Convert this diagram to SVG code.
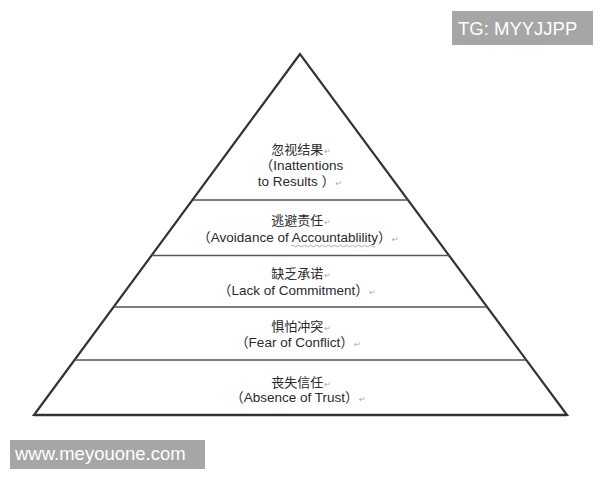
<svg xmlns="http://www.w3.org/2000/svg" width="600" height="480" viewBox="0 0 600 480">
<style>
.zh{font-family:"Noto Sans CJK SC","Liberation Sans",sans-serif;font-size:13px;fill:#2a2a2a;text-anchor:middle}
.en{font-family:"Liberation Sans","Noto Sans CJK SC",sans-serif;font-size:13.5px;fill:#2a2a2a;text-anchor:middle}
.ret{font-family:"DejaVu Sans",sans-serif;font-size:8px;fill:#aaa}
.sep{stroke:#555;stroke-width:1.6;fill:none}
.wm{fill:#a6a6a6}
.wmt{font-family:"Liberation Sans",sans-serif;font-size:18.5px;fill:#fff}
</style>
<rect width="600" height="480" fill="#fff"/>
<g id="connectors">
<polygon points="300,54 34,415 567,415" fill="none" stroke="#333" stroke-width="2.2" stroke-linejoin="miter"/>
<line class="sep" x1="193" y1="200" x2="408" y2="200"/>
<line class="sep" x1="152" y1="255.5" x2="449" y2="255.5"/>
<line class="sep" x1="114" y1="307" x2="487" y2="307"/>
<line class="sep" x1="75" y1="360" x2="526" y2="360"/>
<line x1="34" y1="415" x2="567" y2="415" stroke="#333" stroke-width="2.6"/>
</g>
<g id="node-results">
<text class="zh" x="301" y="154">忽视结果<tspan class="ret" dx="1">↵</tspan></text>
<text class="en" x="301.5" y="170">（Inattentions</text>
<text class="en" x="300" y="186">to Results ）<tspan class="ret" dx="0.5">↵</tspan></text>
</g>
<g id="node-accountability">
<text class="zh" x="301" y="225">逃避责任<tspan class="ret" dx="1">↵</tspan></text>
<text class="en" x="298" y="242">（Avoidance of Accountablility）<tspan class="ret" dx="0.5">↵</tspan></text>
<path d="M291 246 q1.5 -1.5 3 0 t3 0 t3 0 t3 0 t3 0 t3 0 t3 0 t3 0 t3 0 t3 0 t3 0 t3 0 t3 0 t3 0 t3 0 t3 0 t3 0 t3 0 t3 0 t3 0 t3 0 t3 0 t3 0 t3 0 t3 0 t3 0 t3 0 t3 0" fill="none" stroke="#999" stroke-width="0.8"/>
</g>
<g id="node-commitment">
<text class="zh" x="301" y="278">缺乏承诺<tspan class="ret" dx="1">↵</tspan></text>
<text class="en" x="297" y="295">（Lack of Commitment）<tspan class="ret" dx="0.5">↵</tspan></text>
</g>
<g id="node-conflict">
<text class="zh" x="301" y="331">惧怕冲突<tspan class="ret" dx="1">↵</tspan></text>
<text class="en" x="298" y="347">（Fear of Conflict）<tspan class="ret" dx="0.5">↵</tspan></text>
</g>
<g id="node-trust">
<text class="zh" x="301" y="387">丧失信任<tspan class="ret" dx="1">↵</tspan></text>
<text class="en" x="298" y="402">（Absence of Trust）<tspan class="ret" dx="0.5">↵</tspan></text>
</g>
<g id="watermark-tg">
<rect class="wm" x="452" y="11" width="141" height="34"/>
<text class="wmt" x="458" y="34.5">TG: MYYJJPP</text>
</g>
<g id="watermark-site">
<rect class="wm" x="10" y="440" width="195" height="29"/>
<text class="wmt" x="15" y="460">www.meyouone.com</text>
</g>
</svg>
